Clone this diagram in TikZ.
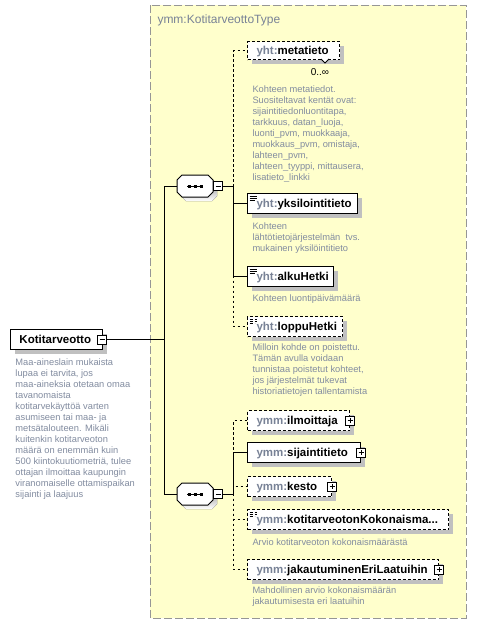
\documentclass[tikz,border=0pt]{standalone}
\usepackage{fontspec}
\setmainfont{Liberation Sans}
\usetikzlibrary{shadows}
\definecolor{bgyellow}{RGB}{255,255,204}
\definecolor{framegray}{RGB}{150,150,150}
\definecolor{shade}{RGB}{192,192,192}
\definecolor{desccol}{RGB}{130,140,160}
\definecolor{prefcol}{RGB}{120,130,150}
\newcommand\lbl[2]{\mbox{\textcolor{prefcol}{#1:}#2}}
\newcommand\octapath[1]{([xshift=5pt]#1.north west) -- ([xshift=-5pt]#1.north east) -- ([yshift=-5pt]#1.north east) -- ([yshift=5pt]#1.south east) -- ([xshift=-5pt]#1.south east) -- ([xshift=5pt]#1.south west) -- ([yshift=5pt]#1.south west) -- ([yshift=-5pt]#1.north west) -- cycle}
\newcommand\drawocta[1]{%
  \fill[shade,transform canvas={xshift=4pt,yshift=-4pt}] \octapath{#1};
  \draw[fill=white] \octapath{#1};
  \draw ([xshift=-8pt]#1.center) -- ([xshift=8pt]#1.center);
  \foreach \dx in {-6,0,6}
    \draw[line width=3pt] ([xshift={\dx*1pt-1.5pt}]#1.center) -- ([xshift={\dx*1pt+1.5pt}]#1.center);}
\begin{document}
\begin{tikzpicture}[x=1pt,y=-1pt,line width=1pt,
  shad/.style={drop shadow={shadow xshift=4pt,shadow yshift=-4pt,fill=shade,opacity=1}},
  box/.style={draw,fill=white,anchor=north west,minimum height=20pt,inner xsep=9pt,inner ysep=0pt,
     text height=10pt,text depth=2pt,align=left,text width=#1,
     font=\fontsize{11.5}{13}\selectfont\bfseries,shad},
  optbox/.style={dash pattern=on 3pt off 2pt},
  simple/.style={path picture={
     \foreach \dy/\len in {3/7,5/7,7/5}
       \draw[line width=0.9pt] ([xshift=2pt,yshift=-\dy pt]path picture bounding box.north west) -- ++(\len,0);}},
  expander/.style={draw,fill=white,minimum size=9pt,inner sep=0pt,line width=1pt},
  minusbox/.style={expander,path picture={
     \draw[line width=1pt] ([xshift=2pt]path picture bounding box.west) -- ([xshift=-2pt]path picture bounding box.east);}},
  plusbox/.style={expander,path picture={
     \draw[line width=1pt] ([xshift=2pt]path picture bounding box.west) -- ([xshift=-2pt]path picture bounding box.east);
     \draw[line width=1pt] ([yshift=-2pt]path picture bounding box.north) -- ([yshift=2pt]path picture bounding box.south);}},
  seqbox/.style={rectangle,minimum width=35pt,minimum height=21pt,inner sep=0pt},
  desc/.style={anchor=north west,inner sep=0pt,align=left,text=desccol,font=\fontsize{9.3}{11}\selectfont},
  optline/.style={dash pattern=on 2.5pt off 2.5pt}
]
\fill[white] (0,0) rectangle (477,624);
\useasboundingbox (0,0) rectangle (477,624);

% type region
\draw[framegray,dash pattern=on 8pt off 3pt,fill=bgyellow] (150,5) rectangle (466,618);
\node[anchor=base west,inner sep=0pt,text=prefcol,font=\fontsize{12}{14}\selectfont] (title) at (157,23.3) {ymm:KotitarveottoType};

% main element
\node[box=74pt] (main) at (10,329) {Kotitarveotto};
\node[minusbox] (m0) at ([xshift=-1pt]main.east) {};
\node[desc] (maindesc) at (15,358.3) {Maa-aineslain mukaista\\lupaa ei tarvita, jos\\maa-aineksia otetaan omaa\\tavanomaista\\kotitarvekäyttöä varten\\asumiseen tai maa- ja\\metsätalouteen. Mikäli\\kuitenkin kotitarveoton\\määrä on enemmän kuin\\500 kiintokuutiometriä, tulee\\ottajan ilmoittaa kaupungin\\viranomaiselle ottamispaikan\\sijainti ja laajuus};

% sequences
\node[seqbox] (seq1) at (195,186) {};
\drawocta{seq1}
\node[minusbox,anchor=west] (s1m) at (seq1.east) {};
\node[seqbox] (seq2) at (195,494) {};
\drawocta{seq2}
\node[minusbox,anchor=west] (s2m) at (seq2.east) {};

% group 1 children
\node[box=74pt,optbox,minimum height=18pt] (meta) at (247,41) {\lbl{yht}{metatieto}};
\draw[fill=white,line width=0.8pt] (321,59) -- (325,63) -- (329,59);
\node[anchor=base,inner sep=0pt,font=\fontsize{10}{12}\selectfont] (metamult) at (320,75.5) {0..∞};
\node[desc] (metadesc) at (252,85) {Kohteen metatiedot.\\Suositeltavat kentät ovat:\\sijaintitiedonluontitapa,\\tarkkuus, datan\_luoja,\\luonti\_pvm, muokkaaja,\\muokkaus\_pvm, omistaja,\\lahteen\_pvm,\\lahteen\_tyyppi, mittausera,\\lisatieto\_linkki};

\node[box=92pt,simple] (yksi) at (247,193) {\lbl{yht}{yksilointitieto}};
\node[desc] (yksidesc) at (252,222.7) {Kohteen\\lähtötietojärjestelmän\ \ tvs.\\mukainen yksilöintitieto};

\node[box=68pt,simple] (alku) at (247,266) {\lbl{yht}{alkuHetki}};
\node[desc] (alkudesc) at (252,294.3) {Kohteen luontipäivämäärä};

\node[box=77pt,optbox,simple] (loppu) at (247,316) {\lbl{yht}{loppuHetki}};
\node[desc] (loppudesc) at (252,343.5) {Milloin kohde on poistettu.\\Tämän avulla voidaan\\tunnistaa poistetut kohteet,\\jos järjestelmät tukevat\\historiatietojen tallentamista};

% group 2 children
\node[box=84pt,optbox] (ilm) at (247,410) {\lbl{ymm}{ilmoittaja}};
\node[plusbox] (p1) at (ilm.east) {};
\node[box=95pt] (sij) at (247,442) {\lbl{ymm}{sijaintitieto}};
\node[plusbox] (p2) at (sij.east) {};
\node[box=66pt,optbox] (kesto) at (247,476) {\lbl{ymm}{kesto}};
\node[plusbox] (p3) at (kesto.east) {};
\node[box=183pt,optbox,simple] (kok) at (247,509) {\lbl{ymm}{kotitarveotonKokonaisma...}};
\node[desc] (kokdesc) at (252,538.5) {Arvio kotitarveoton kokonaismäärästä};
\node[box=173pt,optbox] (jak) at (247,559) {\lbl{ymm}{jakautuminenEriLaatuihin}};
\node[plusbox] (p4) at (jak.east) {};
\node[desc] (jakdesc) at (252,586.5) {Mahdollinen arvio kokonaismäärän\\jakautumisesta eri laatuihin};

% connectors: main to sequences
\draw (m0.east) -- ++(57.5,0) |- (seq1.west);
\draw (m0.east) -- ++(57.5,0) |- (seq2.west);

% group 1 connectors
\draw[optline] (s1m.east) -- ++(10.5,0) |- (meta.west);
\draw[optline] (s1m.east) -- ++(10.5,0) |- (loppu.west);
\draw (s1m.east) -- ++(10.5,0) |- (yksi.west);
\draw (s1m.east) -- ++(10.5,0) |- (alku.west);

% group 2 connectors
\draw[optline] (s2m.east) -- ++(10.5,0) |- (ilm.west);
\draw[optline] (s2m.east) -- ++(10.5,0) |- (kesto.west);
\draw[optline] (s2m.east) -- ++(10.5,0) |- (kok.west);
\draw[optline] (s2m.east) -- ++(10.5,0) |- (jak.west);
\draw (s2m.east) -- ++(10.5,0) |- (sij.west);
\end{tikzpicture}
\end{document}
